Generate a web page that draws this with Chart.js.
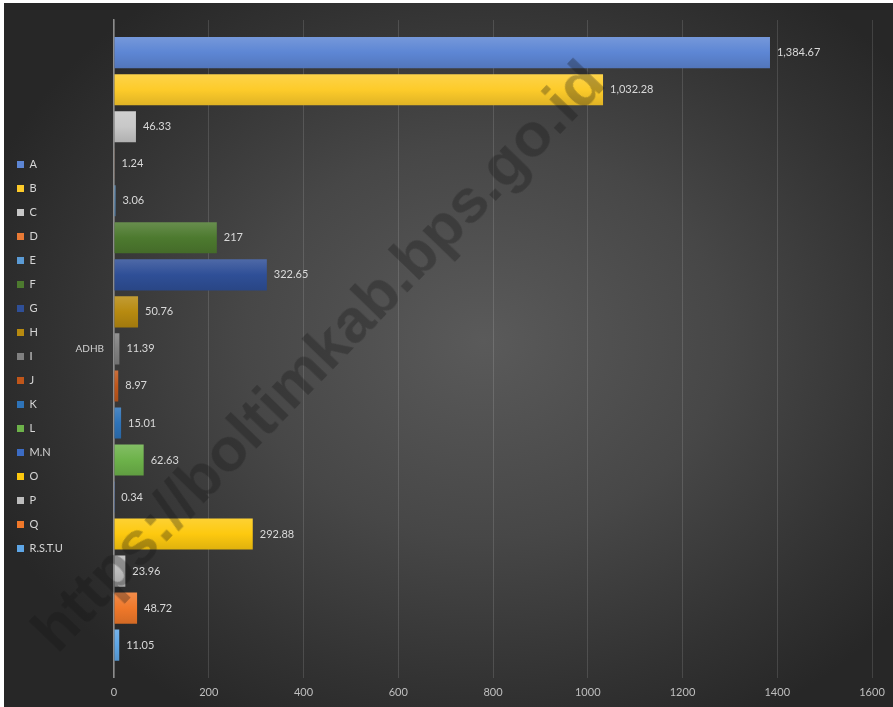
<!DOCTYPE html>
<html lang="en">
<head>
    <meta charset="UTF-8">
    <title>ADHB</title>
    <script src="https://cdn.jsdelivr.net/npm/chart.js"></script>
    <style>
        body {
            margin: 0;
            background: #ffffff;
            font-family: Lato, 'Open Sans', sans-serif;
        }
        .frame {
            position: absolute;
            left: 4px;
            top: 3px;
            width: 889px;
            height: 704px;
            overflow: hidden;
            background: radial-gradient(ellipse 60% 62% at 54% 48%, #5a5a5a 0%, #474747 45%, #323232 80%, #272727 100%);
        }
        .watermark {
            position: absolute;
            left: 313px;
            top: 352px;
            transform: translate(-50%, -50%) rotate(-46deg);
            font-family: 'Liberation Sans', Arial, sans-serif;
            font-weight: bold;
            font-size: 62px;
            color: rgba(15, 15, 15, 0.3);
            white-space: nowrap;
            pointer-events: none;
        }
    </style>
</head>
<body>
    <div class="frame">
        <canvas id="chart" width="889" height="704"></canvas>
        <div class="watermark">https://boltimkab.bps.go.id</div>
    </div>

    <script>
        const categories = ['ADHB'];
        const seriesNames = ['A', 'B', 'C', 'D', 'E', 'F', 'G', 'H', 'I', 'J', 'K', 'L', 'M.N', 'O', 'P', 'Q', 'R.S.T.U'];
        const seriesValues = [1384.67, 1032.28, 46.33, 1.24, 3.06, 217, 322.65, 50.76, 11.39, 8.97, 15.01, 62.63, 0.34, 292.88, 23.96, 48.72, 11.05];
        const seriesColors = ['#5d86d4', '#fdcb2a', '#c8c8c8', '#e97a35', '#5b9bd5', '#4d7a2f', '#2f4f97', '#b78a10',
                              '#808080', '#c0561a', '#2e73b8', '#6db24a', '#3c6cc4', '#fdc90f', '#bdbdbd', '#f0782a', '#5ea6e6'];
        const xTicks = [0, 200, 400, 600, 800, 1000, 1200, 1400, 1600];

        const PLOT_LEFT = 110;

        function shade(hex, amt) {
            const n = parseInt(hex.slice(1), 16);
            const mix = c => Math.round(amt >= 0 ? c + (255 - c) * amt : c * (1 + amt));
            return `rgb(${mix(n >> 16)}, ${mix((n >> 8) & 255)}, ${mix(n & 255)})`;
        }

        // soft top-to-bottom shading on each bar (Office style)
        const barShading = {
            id: 'barShading',
            beforeDatasetsDraw(chart) {
                const ctx = chart.ctx;
                chart.data.datasets.forEach((ds, i) => {
                    chart.getDatasetMeta(i).data.forEach(bar => {
                        const top = bar.y - bar.height / 2;
                        const g = ctx.createLinearGradient(0, top, 0, top + bar.height);
                        g.addColorStop(0, shade(seriesColors[i], 0.15));
                        g.addColorStop(0.5, seriesColors[i]);
                        g.addColorStop(1, shade(seriesColors[i], -0.12));
                        bar.options.backgroundColor = g;
                    });
                });
            }
        };

        // value labels at the end of each bar
        const barLabels = {
            id: 'barLabels',
            afterDatasetsDraw(chart) {
                const ctx = chart.ctx;
                ctx.save();
                ctx.font = '11px Lato, sans-serif';
                ctx.fillStyle = '#d9d9d9';
                ctx.textAlign = 'left';
                ctx.textBaseline = 'middle';
                chart.data.datasets.forEach((ds, i) => {
                    const meta = chart.getDatasetMeta(i);
                    meta.data.forEach((bar, j) => {
                        const txt = ds.data[j].toLocaleString('en-US', { maximumFractionDigits: 2 });
                        ctx.fillText(txt, bar.x + 7, bar.y);
                    });
                });
                ctx.restore();
            }
        };

        // nudge the legend a little upward, like the original
        const legendShift = {
            id: 'legendShift',
            afterLayout(chart) {
                chart.legend.top -= 7;
                chart.legend.bottom -= 7;
            }
        };

        new Chart(document.getElementById('chart'), {
            type: 'bar',
            data: {
                labels: categories,
                datasets: seriesNames.map((name, i) => ({
                    label: name,
                    data: [seriesValues[i]],
                    backgroundColor: seriesColors[i],
                    categoryPercentage: 0.957,
                    barPercentage: 0.84
                }))
            },
            options: {
                indexAxis: 'y',
                responsive: false,
                animation: false,
                layout: { padding: { top: 17, right: 21, bottom: 0, left: 0 } },
                plugins: {
                    legend: {
                        position: 'left',
                        labels: {
                            boxWidth: 7,
                            boxHeight: 7,
                            padding: 13,
                            color: '#d6d6d6',
                            font: { size: 11, family: 'Lato' }
                        }
                    },
                    tooltip: { enabled: false }
                },
                scales: {
                    x: {
                        min: 0,
                        max: 1600,
                        afterBuildTicks(scale) {
                            scale.ticks = xTicks.map(v => ({ value: v }));
                        },
                        ticks: {
                            color: '#bfbfbf',
                            padding: 8,
                            font: { size: 11, family: 'Lato' },
                            callback: v => String(v)
                        },
                        grid: {
                            color: 'rgba(255,255,255,0.13)',
                            drawTicks: false
                        },
                        border: { display: false }
                    },
                    y: {
                        afterFit(scale) {
                            scale.width = PLOT_LEFT - scale.chart.legend.width;
                        },
                        ticks: {
                            color: '#d0d0d0',
                            padding: 10,
                            font: { size: 10, family: 'Lato' }
                        },
                        grid: { display: false, drawTicks: false },
                        border: { color: '#8c8c8c', width: 1.5 }
                    }
                }
            },
            plugins: [barShading, barLabels, legendShift]
        });
    </script>
</body>
</html>
